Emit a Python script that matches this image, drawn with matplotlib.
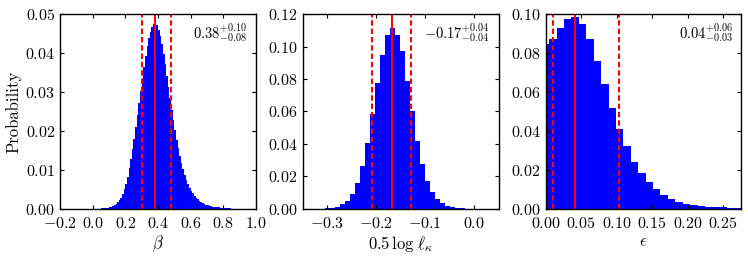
import numpy as np
import matplotlib
matplotlib.use("Agg")
import matplotlib.pyplot as plt

plt.rcParams['font.family'] = 'serif'
plt.rcParams['font.serif'] = ['cmr10']
plt.rcParams['mathtext.fontset'] = 'cm'
plt.rcParams['axes.formatter.use_mathtext'] = True

# beta: bin start, bin width, probabilities
beta_lo = 0.0
beta_w = 0.01
beta_p = [0.0001, 0.0001, 0.0001, 0.0001, 0.0001, 0.0002, 0.0002, 0.0002, 0.0003, 0.0003,
          0.0004, 0.0005, 0.0007, 0.0009, 0.0013, 0.0017, 0.0022, 0.0029, 0.0038, 0.0050,
          0.0065, 0.0083, 0.0104, 0.0127, 0.0153, 0.0180, 0.0209, 0.0240, 0.0272, 0.0303,
          0.0335, 0.0364, 0.0392, 0.0417, 0.0438, 0.0455, 0.0467, 0.0474, 0.0476, 0.0471,
          0.0460, 0.0444, 0.0423, 0.0398, 0.0371, 0.0342, 0.0313, 0.0284, 0.0255, 0.0228,
          0.0202, 0.0178, 0.0156, 0.0136, 0.0118, 0.0102, 0.0088, 0.0075, 0.0064, 0.0055,
          0.0047, 0.0040, 0.0034, 0.0029, 0.0025, 0.0021, 0.0018, 0.0015, 0.0013, 0.0011,
          0.0010, 0.0008, 0.0007, 0.0006, 0.0005, 0.0005, 0.0004, 0.0004, 0.0003, 0.0003,
          0.0003, 0.0002, 0.0002, 0.0002, 0.0002, 0.0001, 0.0001, 0.0001, 0.0001, 0.0001]
beta_stats = [0.38, 0.30, 0.48]   # median, lower, upper

# 0.5 log l_kappa
lk_lo = -0.315
lk_w = 0.0102
lk_p = [0.0002, 0.0004, 0.0008, 0.0014, 0.0029, 0.0051, 0.0092, 0.0160, 0.0265, 0.0406,
        0.0583, 0.0773, 0.0948, 0.1071, 0.1116, 0.1070, 0.0970, 0.0790, 0.0600, 0.0420,
        0.0277, 0.0174, 0.0107, 0.0062, 0.0035, 0.0021, 0.0011, 0.0006, 0.0003, 0.0002,
        0.0001]
lk_stats = [-0.168, -0.209, -0.128]

# epsilon
eps_lo = -0.0053
eps_w = 0.01045
eps_p = [0.0845, 0.0872, 0.0927, 0.0974, 0.0986, 0.0949, 0.0870, 0.0761, 0.0640, 0.0519,
         0.0411, 0.0321, 0.0242, 0.0184, 0.0137, 0.0102, 0.0073, 0.0051, 0.0036, 0.0026,
         0.0020, 0.0015, 0.0012, 0.0010, 0.0008, 0.0007, 0.0005]
eps_stats = [0.0417, 0.0108, 0.1032]

labels = [r'$0.38^{+0.10}_{-0.08}$', r'$-0.17^{+0.04}_{-0.04}$', r'$0.04^{+0.06}_{-0.03}$']
xlabels = [r'$\beta$', r'$0.5\,\log\,\ell_\kappa$', r'$\epsilon$']


def fmt(f):
    # tick text through mathtext so the minus sign is a real minus
    return matplotlib.ticker.FuncFormatter(lambda v, pos: '$%s$' % (f % (v + 0.0 if abs(v) > 1e-9 else 0.0)))


fig = plt.figure(figsize=(7.48, 2.58), dpi=100)
lefts = [0.0802, 0.4047, 0.7293]
panels = [(beta_lo, beta_w, beta_p, beta_stats, (-0.2, 1.0), (0, 0.05),
           np.arange(-0.2, 1.01, 0.2), np.arange(0, 0.051, 0.01), '%.1f', '%.2f'),
          (lk_lo, lk_w, lk_p, lk_stats, (-0.35, 0.05), (0, 0.12),
           np.arange(-0.3, 0.01, 0.1), np.arange(0, 0.121, 0.02), '%.1f', '%.2f'),
          (eps_lo, eps_w, eps_p, eps_stats, (0, 0.276), (0, 0.10),
           np.arange(0, 0.26, 0.05), np.arange(0, 0.101, 0.02), '%.2f', '%.2f')]

for i, (lo, w, p, st, xl, yl, xt, yt, xf, yf) in enumerate(panels):
    ax = fig.add_axes([lefts[i], 0.190, 0.262, 0.7557])
    edges = lo + w * np.arange(len(p) + 1)
    ax.stairs(p, edges, fill=True, color='#0000ff', lw=0)
    ax.axvline(st[0], color='r', lw=1.4)
    ax.axvline(st[1], color='r', lw=1.5, linestyle=(0, (2.6, 1.4)))
    ax.axvline(st[2], color='r', lw=1.5, linestyle=(0, (2.6, 1.4)))
    ax.set_xlim(*xl)
    ax.set_ylim(*yl)
    ax.set_xticks(xt)
    ax.set_yticks(yt)
    ax.xaxis.set_major_formatter(fmt(xf))
    ax.yaxis.set_major_formatter(fmt(yf))
    ax.tick_params(direction='in', top=True, right=True, length=3, width=0.8,
                   labelsize=11.5)
    ax.tick_params(axis='x', pad=5)
    for s in ax.spines.values():
        s.set_linewidth(1.0)
    ax.text(0.955, 0.96, labels[i], transform=ax.transAxes, ha='right', va='top',
            fontsize=10.5)
    ax.set_xlabel(xlabels[i], fontsize=12, labelpad=2)
    if i == 0:
        ax.set_ylabel('Probability', fontsize=12, labelpad=3)

fig.savefig('out.png', dpi=100)
